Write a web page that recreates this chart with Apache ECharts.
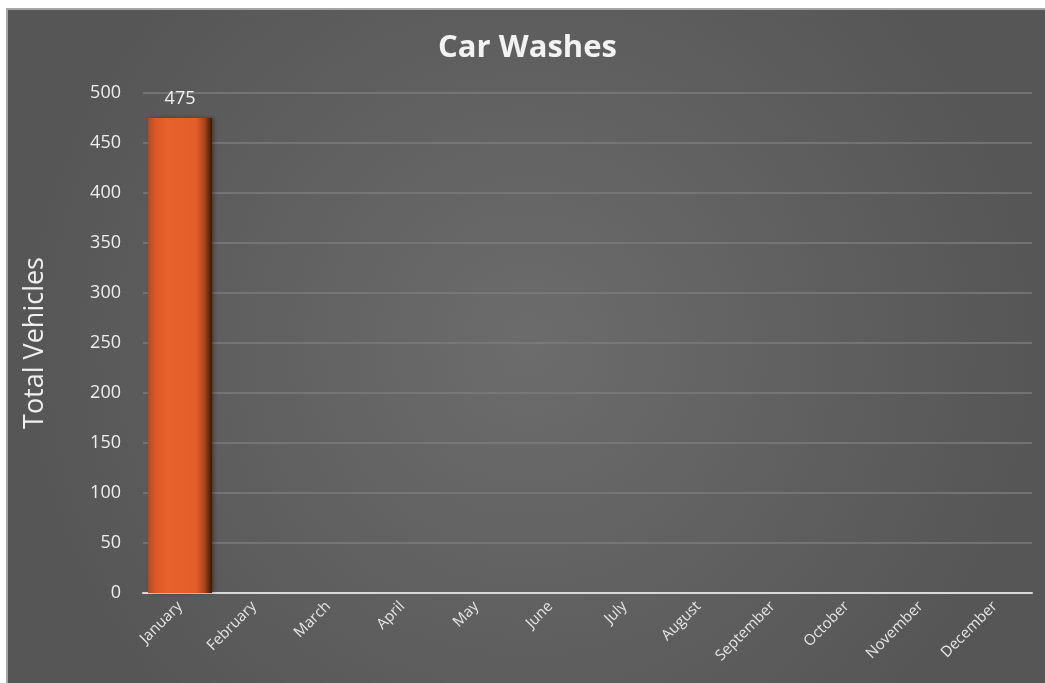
<!DOCTYPE html>
<html>
<head>
<meta charset="utf-8">
<script src="https://cdn.jsdelivr.net/npm/echarts@6/dist/echarts.min.js"></script>
<style>
  html, body { margin: 0; padding: 0; background: #fff; }
  #box {
    position: absolute; left: 6px; top: 8px;
    width: 1039px; height: 675px;
    border-left: 2px solid #a6a6a6; border-top: 2px solid #a6a6a6;
  }
  #chart { width: 1039px; height: 675px; }
</style>
</head>
<body>
<div id="box"><div id="chart"></div></div>
<script>
// 月份
const months = ['January', 'February', 'March', 'April', 'May', 'June',
  'July', 'August', 'September', 'October', 'November', 'December']
// 洗车数量
const washes = [475, null, null, null, null, null, null, null, null, null, null, null]
const yTicks = [0, 50, 100, 150, 200, 250, 300, 350, 400, 450, 500]

const font = '"Open Sans", "Noto Sans", sans-serif'
const mChart = echarts.init(document.getElementById('chart'))

const options = {
  backgroundColor: {
    type: 'radial', x: 0.5, y: 0.5, r: 0.75,
    colorStops: [
      { offset: 0, color: '#6c6c6c' },
      { offset: 1, color: '#565656' }
    ]
  },
  animation: false,
  title: {
    text: 'Car Washes',
    left: 'center',
    top: 18,
    textStyle: { color: '#f2f2f2', fontSize: 31, fontWeight: 'bold', fontFamily: font }
  },
  grid: { left: 135, right: 15, top: 83, bottom: 92 },
  xAxis: {
    type: 'category',
    data: months,
    axisLine: { lineStyle: { color: '#d9d9d9', width: 2 } },
    axisTick: { show: false },
    axisLabel: { color: '#e6e6e6', fontSize: 15, rotate: 45, margin: 11, fontFamily: font, interval: 0 }
  },
  yAxis: {
    type: 'value',
    min: yTicks[0],
    max: yTicks[yTicks.length - 1],
    interval: 50,
    name: 'Total Vehicles',
    nameLocation: 'middle',
    nameGap: 94,
    nameTextStyle: { color: '#eeeeee', fontSize: 27, fontFamily: font },
    axisLine: { show: false },
    axisTick: { show: false },
    axisLabel: { color: '#eeeeee', fontSize: 18, margin: 22, fontFamily: font },
    splitLine: { lineStyle: { color: '#7c7c7c', width: 1.5 } }
  },
  series: [{
    type: 'bar',
    data: washes,
    barWidth: 64,
    label: {
      show: true,
      position: 'top',
      distance: 10,
      color: '#f2f2f2',
      fontSize: 18,
      fontFamily: font
    },
    itemStyle: {
      color: {
        type: 'linear', x: 0, y: 0, x2: 1, y2: 0,
        colorStops: [
          { offset: 0, color: '#b44a1e' },
          { offset: 0.12, color: '#dc5a26' },
          { offset: 0.3, color: '#e8622b' },
          { offset: 0.75, color: '#e35e29' },
          { offset: 0.88, color: '#a9461c' },
          { offset: 1, color: '#3a1606' }
        ]
      },
      shadowColor: 'rgba(0,0,0,0.35)',
      shadowBlur: 4,
      shadowOffsetX: 2
    }
  }]
}

mChart.setOption(options)
</script>
</body>
</html>
